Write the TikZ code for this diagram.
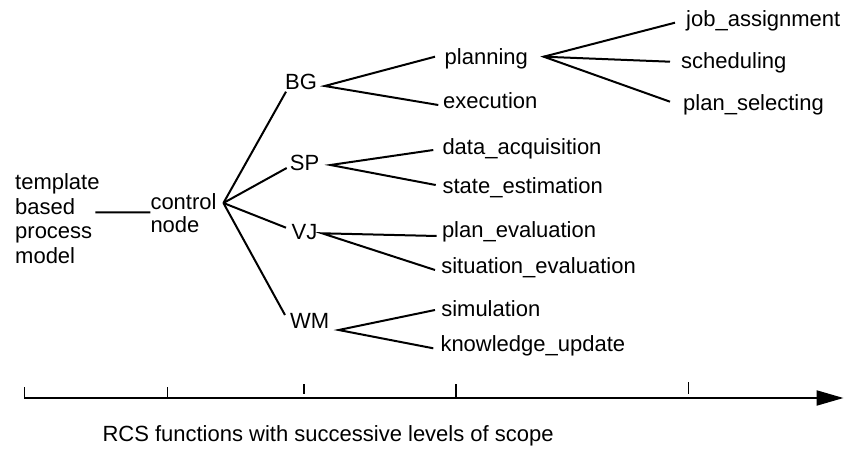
\documentclass[tikz,border=0pt]{standalone}
\usepackage{fontspec}
\setmainfont{Liberation Sans}
\usetikzlibrary{arrows.meta}

\tikzset{
  lbl/.style={anchor=base west, inner sep=0pt, text height=15.8pt, text depth=4.6pt,
              font=\fontsize{22}{24.7}\selectfont},
  multi/.style={anchor=north west, inner sep=0pt, align=left},
  branch/.style={line width=2pt},
  tickmark/.style={line width=1.2pt},
  axisline/.style={line width=2.2pt, -{Triangle[length=27pt,width=15pt]}},
}

\begin{document}
\begin{tikzpicture}[x=1pt, y=-1pt]
\useasboundingbox (0,0) rectangle (844,449);

% root and control node
\node[multi, font=\fontsize{22}{24.7}\selectfont] (tpl) at (15,173.3)
  {template\\based\\process\\model};
\node[multi, font=\fontsize{22}{22.7}\selectfont] (ctrl) at (150.3,193.4)
  {control\\node};
\coordinate (hub) at ([shift={(6.7,9.6)}]ctrl.north east);

% first level
\node[lbl] (bg) at (285,90) {BG};
\node[lbl] (sp) at (289.7,170.7) {SP};
\node[lbl] (vj) at (291.5,240) {VJ};
\node[lbl] (wm) at (290,329) {WM};

% second level
\node[lbl] (plan) at (444.5,64.5) {planning};
\node[lbl] (exec) at (443,109) {execution};
\node[lbl] (daq) at (442.3,155) {data\_acquisition};
\node[lbl] (sest) at (442.4,194) {state\_estimation};
\node[lbl] (peval) at (441.8,238) {plan\_evaluation};
\node[lbl] (seval) at (441.1,274) {situation\_evaluation};
\node[lbl] (sim) at (441.1,316.5) {simulation};
\node[lbl] (kup) at (440.3,351.7) {knowledge\_update};

% third level
\node[lbl] (job) at (686,27) {job\_assignment};
\node[lbl] (sched) at (681,68.7) {scheduling};
\node[lbl] (psel) at (683,110.5) {plan\_selecting};

% tree connectors
\draw[branch] ([shift={(-4.4,-6.2)}]tpl.east) -- ([shift={(0,-0.6)}]ctrl.west);

\draw[branch] (hub) -- ([shift={(1,7.3)}]bg.west);
\draw[branch] (hub) -- ([shift={(-3,2.9)}]sp.west);
\draw[branch] (hub) -- ([shift={(-5.5,-6.7)}]vj.west);
\draw[branch] (hub) -- ([shift={(-5,-8.4)}]wm.west);

\draw[branch] ([shift={(-9.5,-2.2)}]plan.west) -- ([shift={(7.5,1.6)}]bg.east)
                -- ([shift={(-4.7,1.6)}]exec.west);
\draw[branch] ([shift={(-11,1.3)}]job.west) -- ([shift={(15.6,-2.2)}]plan.east)
                -- ([shift={(-13,-3.2)}]psel.west);
\draw[branch] ([shift={(15.6,-2.2)}]plan.east) -- ([shift={(-11,-1.4)}]sched.west);

\draw[branch] ([shift={(-9,0.6)}]daq.west) -- ([shift={(11,-0.1)}]sp.east)
                -- ([shift={(-6.7,-3.4)}]sest.west);
\draw[branch] ([shift={(-5.1,3.6)}]peval.west) -- ([shift={(4.5,-1.1)}]vj.east)
                -- ([shift={(-6.1,1.6)}]seval.west);
\draw[branch] ([shift={(-6.1,-0.9)}]sim.west) -- ([shift={(9.2,6.6)}]wm.east)
                -- ([shift={(-7,2.2)}]kup.west);

% scope axis with tick marks
\coordinate (axs) at (24,398);
\coordinate (axe) at (843.5,398);
\draw[axisline] (axs) -- (axe);
\draw[tickmark] (24.3,387) -- (24.3,398);
\draw[tickmark] (167.7,387) -- (167.7,398);
\draw[tickmark] (304,384) -- (304,394.3);
\draw[tickmark] (456,384) -- (456,398);
\draw[tickmark] (688.3,382.3) -- (688.3,394.3);

\node[lbl] (cap) at (102.3,441.7) {RCS functions with successive levels of scope};
\end{tikzpicture}
\end{document}
